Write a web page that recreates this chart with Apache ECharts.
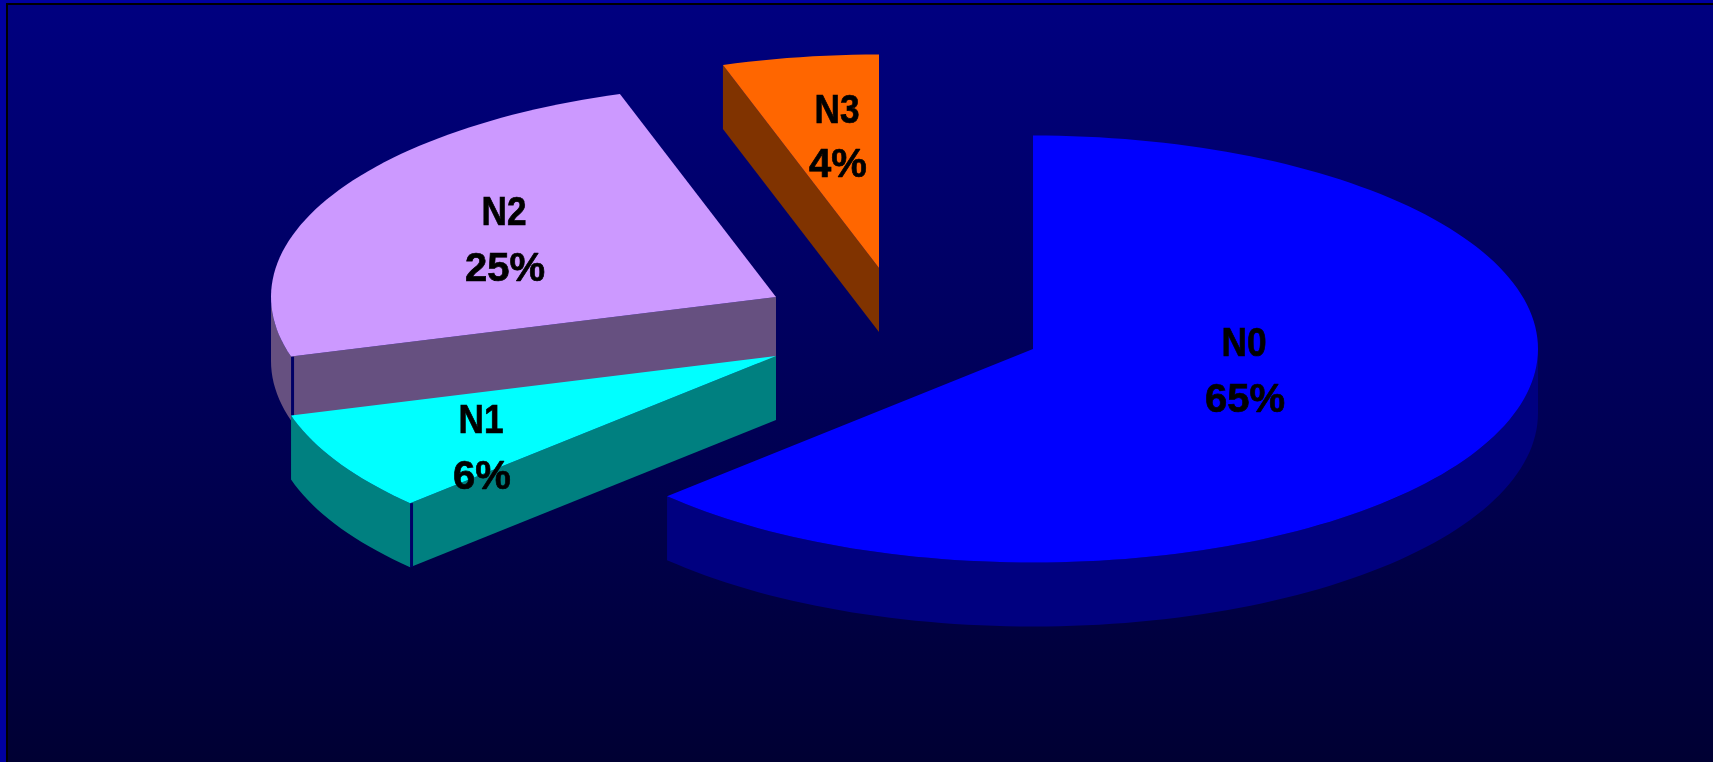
<!DOCTYPE html>
<html>
<head>
<meta charset="utf-8">
<style>html,body{margin:0;padding:0;background:#000080;overflow:hidden}#chart{width:1713px;height:762px}</style>
<script src="https://cdn.jsdelivr.net/npm/echarts@6/dist/echarts.min.js"></script>
</head>
<body>
<div id="chart"></div>
<script>
var categories = ['N0', 'N1', 'N2', 'N3'];
var percentLabels = ['65%', '6%', '25%', '4%'];
var drawnShares = [62.9, 7.6, 24.5, 5.0];

// Colours
var topColors = ['#0000FF', '#00FFFF', '#CC99FF', '#FF6600'];
var wallColors = ['#000080', '#008080', '#665080', '#803300'];

// Layout: exploded slice apex, label centres, draw order
var apexX = [1033, 776, 776, 879];
var apexY = [349, 356, 297, 268];
var labelX = [1244, 481, 504, 837];
var nameY = [345, 422, 214, 112];
var percentY = [401, 478, 270, 166];
var drawOrder = [1, 4, 3, 2];
var RX = 505, RY = 213.5, DEPTH = 64;
var LABEL_FONT = 'bold 40px "Liberation Sans", Arial, sans-serif';

var total = drawnShares.reduce(function (a, b) { return a + b; }, 0);

function rimPoint(i, deg, dy) {
  var t = deg * Math.PI / 180;
  return [apexX[i] + RX * Math.sin(t), apexY[i] - RY * Math.cos(t) + (dy || 0)];
}
function arcPoints(i, from, to, dy) {
  var pts = [], n = Math.max(2, Math.ceil((to - from) / 1.5));
  for (var k = 0; k <= n; k++) pts.push(rimPoint(i, from + (to - from) * k / n, dy));
  return pts;
}
function labelText(text, x, y, sx) {
  return { type: 'text', z2: 100, x: x, y: y, scaleX: sx, scaleY: 1,
    style: { text: text, x: 0, y: 0, fill: '#000000', stroke: '#000000', lineWidth: 0.7,
      font: LABEL_FONT, align: 'center', verticalAlign: 'middle' } };
}

function renderItem(params, api) {
  var i = params.dataIndex, before = 0;
  for (var j = 0; j < i; j++) before += drawnShares[j];
  var start = before / total * 360;
  var end = (before + api.value(0)) / total * 360;
  var base = drawOrder[i] * 10;
  var children = [];

  // outer wall: only the part of the rim facing the viewer
  var wallFrom = Math.max(start, 90), wallTo = Math.min(end, 270);
  if (wallTo > wallFrom) {
    var upper = arcPoints(i, wallFrom, wallTo, 0);
    var lower = arcPoints(i, wallFrom, wallTo, DEPTH).reverse();
    children.push({ type: 'polygon', z2: base, shape: { points: upper.concat(lower) },
      style: { fill: wallColors[i] } });
  }
  // cut face running from the start edge in to the apex
  if (start >= 180) {
    var edge = rimPoint(i, start, 0), edgeLow = rimPoint(i, start, DEPTH);
    var apex = [apexX[i], apexY[i]], apexLow = [apexX[i], apexY[i] + DEPTH];
    children.push({ type: 'polygon', z2: base + 1, shape: { points: [edge, apex, apexLow, edgeLow] },
      style: { fill: wallColors[i] } });
    if (start < 270) {
      children.push({ type: 'line', z2: base + 2,
        shape: { x1: edge[0] + 1.5, y1: edge[1], x2: edgeLow[0] + 1.5, y2: edgeLow[1] },
        style: { stroke: '#000066', lineWidth: 3 } });
    }
  }
  // top surface
  children.push({ type: 'polygon', z2: base + 3,
    shape: { points: [[apexX[i], apexY[i]]].concat(arcPoints(i, start, end, 0)) },
    style: { fill: topColors[i] } });
  // labels
  children.push(labelText(categories[i], labelX[i], nameY[i], 0.88));
  children.push(labelText(percentLabels[i], labelX[i] + 1, percentY[i], 1));
  return { type: 'group', children: children };
}

var chart = echarts.init(document.getElementById('chart'), null, { renderer: 'canvas' });
chart.setOption({
  animation: false,
  backgroundColor: new echarts.graphic.LinearGradient(0, 0, 0, 1, [
    { offset: 0, color: '#000080' }, { offset: 1, color: '#000033' }
  ]),
  graphic: [
    { type: 'rect', left: 0, top: 0, z: 50, shape: { width: 1713, height: 3 }, style: { fill: '#0000A0' } },
    { type: 'rect', left: 0, top: 0, z: 50, shape: { width: 6, height: 762 }, style: { fill: '#0000A0' } },
    { type: 'rect', left: 6, top: 3, z: 50, shape: { width: 1707, height: 2 }, style: { fill: '#000000' } },
    { type: 'rect', left: 6, top: 3, z: 50, shape: { width: 2, height: 759 }, style: { fill: '#000000' } }
  ],
  series: [{
    type: 'custom',
    coordinateSystem: 'none',
    renderItem: renderItem,
    silent: true,
    clip: false,
    encode: { value: 0, itemName: 1 },
    data: drawnShares.map(function (v, i) { return { value: [v], name: categories[i] }; })
  }]
});
</script>
</body>
</html>
